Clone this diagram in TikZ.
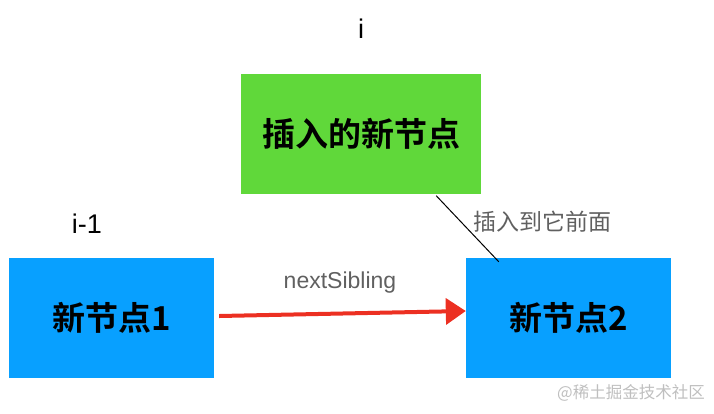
\documentclass[tikz,border=0pt]{standalone}
\usepackage{fontspec}
\setmainfont{Liberation Sans}
\newfontfamily\cjk{Noto Sans CJK SC}
\newfontfamily\cjkbold{Noto Sans CJK SC Bold}
\usetikzlibrary{positioning, arrows.meta}
\definecolor{nodeGreen}{RGB}{96,216,58}
\definecolor{nodeBlue}{RGB}{8,160,255}
\definecolor{arrowRed}{RGB}{236,48,34}
\definecolor{labelGray}{RGB}{96,96,96}
\tikzset{
	nodebox/.style={rectangle, inner sep=0pt, minimum width=205pt,
		minimum height=120pt, font=\cjkbold\fontsize{33}{36}\selectfont},
	idxlabel/.style={font=\fontsize{27}{30}\selectfont, inner sep=0pt},
	edgelabel/.style={font=\fontsize{23}{26}\selectfont, text=labelGray, inner sep=0pt},
	nextarr/.style={-{Triangle[length=20pt, width=26pt]}, line width=4pt, draw=arrowRed}
}
\begin{document}
\begin{tikzpicture}[x=1pt, y=-1pt]
	\useasboundingbox (0,0) rectangle (714,413);
	\node[nodebox, fill=nodeGreen, minimum width=240pt] (ins) at (361,133.5) {插入的新节点};
	\node[nodebox, fill=nodeBlue] (n1) at (111.5,318) {新节点1};
	\node[nodebox, fill=nodeBlue] (n2) at (568.5,318) {新节点2};
	\node[idxlabel, above=35pt of ins] (ii) {i};
	\node[idxlabel] (iprev) at (87,224) {i-1};
	\node[edgelabel, font=\cjk\fontsize{23}{26}\selectfont] (before) at (542,222) {插入到它前面};
	\node[edgelabel] (nextlbl) at (340,283) {nextSibling};
	\node[font=\cjk\fontsize{16.5}{18}\selectfont, text=black!25, inner sep=0pt] (mark) at (631,393) {@稀土掘金技术社区};
	\draw[line width=1pt] ([xshift=-45pt, yshift=-2pt]ins.south east) -- ([xshift=33pt, yshift=-4pt]n2.north west);
	\draw[nextarr] ([xshift=5pt, yshift=2pt]n1.east) -- ([xshift=0pt, yshift=7pt]n2.west);
\end{tikzpicture}
\end{document}
